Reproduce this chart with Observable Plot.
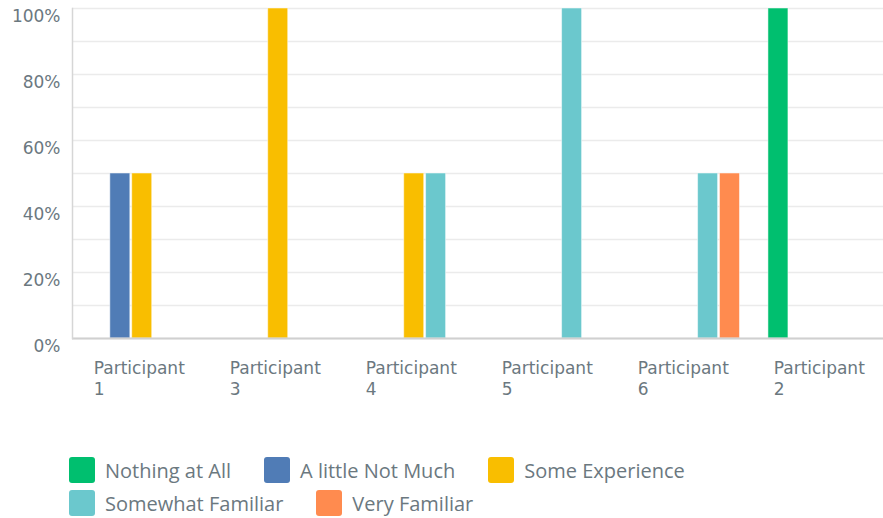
<!DOCTYPE html>
<html>
<head>
<meta charset="utf-8">
<script src="https://cdn.jsdelivr.net/npm/d3@7"></script>
<script src="https://cdn.jsdelivr.net/npm/@observablehq/plot@0.6"></script>
<style>
  html, body { margin: 0; padding: 0; background: #fff; overflow: hidden; }
  #wrap { width: 883px; overflow: hidden; }
  #chart svg { display: block; max-width: none !important; }
  .legend {
    display: flex; flex-wrap: wrap; width: 720px;
    margin: 47px 0 0 69px; font-family: "Open Sans", sans-serif;
    font-size: 20px; color: #6b787f;
  }
  .legend .item { display: flex; align-items: center; height: 26px; margin: 0 33px 7px 0; }
  .legend .sw { width: 26px; height: 26px; border-radius: 3px; margin-right: 10px; }
</style>
</head>
<body>
<div id="wrap">
  <div id="chart"></div>
  <div class="legend" id="legend"></div>
</div>
<script>
// Groups, in the order they appear along the axis
const participants = ["Participant 1", "Participant 3", "Participant 4", "Participant 5", "Participant 6", "Participant 2"];
// Answer categories and their colours
const categories = ["Nothing at All", "A little Not Much", "Some Experience", "Somewhat Familiar", "Very Familiar"];
const colors = ["#00BF6F", "#507CB6", "#F9BE00", "#6BC8CD", "#FF8B4F"];

// Percent of answers per participant, one array per category
const nothingAtAll     = [0, 0, 0, 0, 0, 100];
const aLittleNotMuch   = [50, 0, 0, 0, 0, 0];
const someExperience   = [50, 100, 50, 0, 0, 0];
const somewhatFamiliar = [0, 0, 50, 100, 50, 0];
const veryFamiliar     = [0, 0, 0, 0, 50, 0];

const yTickValues = [0, 20, 40, 60, 80, 100];
const yGridValues = [0, 10, 20, 30, 40, 50, 60, 70, 80, 90, 100];

const series = [nothingAtAll, aLittleNotMuch, someExperience, somewhatFamiliar, veryFamiliar];
const data = [];
series.forEach((values, ci) => {
  values.forEach((v, pi) => {
    if (v > 0) data.push({participant: participants[pi], category: categories[ci], value: v});
  });
});

const chart = Plot.plot({
  width: 888,
  height: 410,
  marginLeft: 72,
  marginRight: 0,
  marginTop: 8,
  marginBottom: 72,
  style: {fontFamily: "'DejaVu Sans', sans-serif", fontSize: "17px", color: "#6b787f", background: "#fff"},
  fx: {domain: participants, padding: 0},
  x: {domain: categories, paddingInner: 0.0863, paddingOuter: 0.65, align: 0.56, round: false, axis: null},
  y: {domain: [0, 100]},
  color: {domain: categories, range: colors},
  marks: [
    Plot.gridY(yGridValues, {stroke: "#ebebeb", strokeOpacity: 1, strokeWidth: 1.5}),
    Plot.barY(data, {fx: "participant", x: "category", y: "value", fill: "category",
      stroke: "#fff", strokeOpacity: 0.5, strokeWidth: 1}),
    Plot.ruleY([0], {stroke: "#d0d0d0", strokeWidth: 2}),
    Plot.frame({anchor: "left", facetAnchor: "left", stroke: "#d6d6d6", strokeWidth: 1.5}),
    Plot.axisY({ticks: yTickValues, tickFormat: d => d + "%", tickSize: 0, tickPadding: 12,
      dy: 8, label: null, fontSize: 17}),
    Plot.axisFx({anchor: "bottom", tickSize: 0, tickPadding: 20, label: null, fontSize: 17,
      tickFormat: d => d.replace(" ", "\n"), textAnchor: "start", dx: -46.7, lineHeight: 1.25})
  ]
});
chart.style.maxWidth = "none";
document.getElementById("chart").appendChild(chart);

// Legend
const legend = document.getElementById("legend");
categories.forEach((c, i) => {
  const item = document.createElement("div");
  item.className = "item";
  const sw = document.createElement("span");
  sw.className = "sw";
  sw.style.background = colors[i];
  const label = document.createElement("span");
  label.textContent = c;
  item.appendChild(sw);
  item.appendChild(label);
  legend.appendChild(item);
});
</script>
</body>
</html>
